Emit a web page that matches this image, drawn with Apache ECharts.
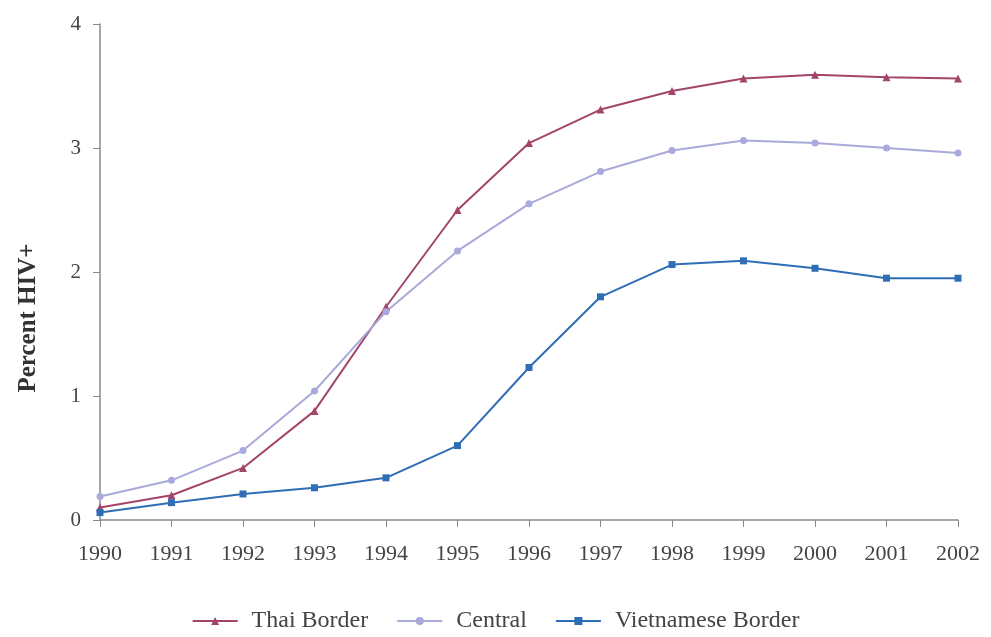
<!DOCTYPE html>
<html>
<head>
<meta charset="utf-8">
<script src="https://cdn.jsdelivr.net/npm/echarts@6/dist/echarts.min.js"></script>
<style>
  html, body { margin: 0; padding: 0; background: #fff; }
  #chart { width: 991px; height: 637px; }
</style>
</head>
<body>
<div id="chart"></div>
<script>
// 年份和三条曲线的数据
const years = ["1990", "1991", "1992", "1993", "1994", "1995", "1996", "1997", "1998", "1999", "2000", "2001", "2002"];
const thaiBorder = [0.1, 0.2, 0.42, 0.88, 1.72, 2.5, 3.04, 3.31, 3.46, 3.56, 3.59, 3.57, 3.56];
const central = [0.19, 0.32, 0.56, 1.04, 1.68, 2.17, 2.55, 2.81, 2.98, 3.06, 3.04, 3.0, 2.96];
const vietnameseBorder = [0.06, 0.14, 0.21, 0.26, 0.34, 0.6, 1.23, 1.8, 2.06, 2.09, 2.03, 1.95, 1.95];

const font = "'Liberation Serif', 'DejaVu Serif', serif";
let myChart = echarts.init(document.getElementById("chart"));
myChart.setOption({
  animation: false,
  textStyle: { fontFamily: font },
  grid: {
    left: 100,
    right: 33,
    top: 24,
    bottom: 117,
  },
  // 纵轴标题，位置比轴中点略低
  graphic: [
    {
      type: "text",
      x: 29,
      y: 318,
      rotation: Math.PI / 2,
      style: {
        text: "Percent HIV+",
        fontFamily: font,
        fontSize: 25,
        fontWeight: "bold",
        fill: "#333",
        align: "center",
        verticalAlign: "middle",
      },
    },
  ],
  legend: {
    top: 604,
    left: "center",
    itemWidth: 45,
    itemHeight: 10,
    itemGap: 28,
    textStyle: { fontFamily: font, fontSize: 24, color: "#444", padding: [0, 0, 0, 9] },
    data: ["Thai Border", "Central", "Vietnamese Border"],
  },
  xAxis: {
    type: "category",
    boundaryGap: false,
    data: years,
    axisLine: { lineStyle: { color: "#888", width: 1.5 } },
    axisTick: { alignWithLabel: true, length: 7, lineStyle: { color: "#888" } },
    axisLabel: { color: "#444", fontSize: 22, margin: 23, fontFamily: font },
  },
  yAxis: {
    type: "value",
    min: 0,
    max: 4,
    interval: 1,
    axisLine: { show: true, lineStyle: { color: "#888", width: 1.5 } },
    axisTick: { show: true, length: 7, lineStyle: { color: "#888" } },
    axisLabel: { color: "#444", fontSize: 21, margin: 19, fontFamily: font },
    splitLine: { show: false },
  },
  series: [
    {
      name: "Thai Border",
      type: "line",
      data: thaiBorder,
      symbol: "triangle",
      symbolSize: 8,
      color: "#a3456a",
      lineStyle: { width: 2, color: "#a3456a" },
    },
    {
      name: "Central",
      type: "line",
      data: central,
      symbol: "circle",
      symbolSize: 7,
      color: "#a9a9dc",
      lineStyle: { width: 2, color: "#a9a9dc" },
    },
    {
      name: "Vietnamese Border",
      type: "line",
      data: vietnameseBorder,
      symbol: "rect",
      symbolSize: 7,
      color: "#2f6db5",
      lineStyle: { width: 2, color: "#2f6db5" },
    },
  ],
});
</script>
</body>
</html>
